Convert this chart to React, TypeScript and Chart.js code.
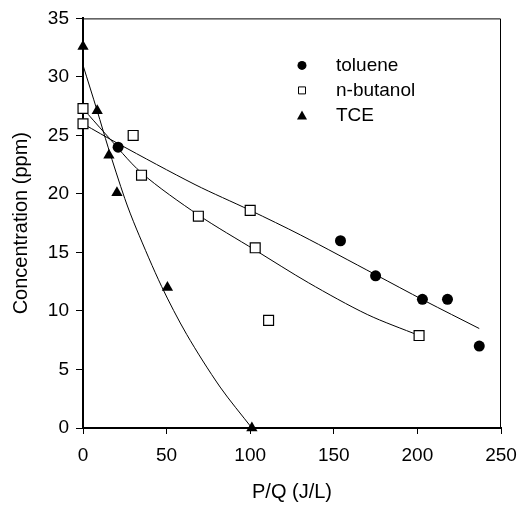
import React, { useEffect, useRef } from 'react';
import { Chart, registerables } from 'chart.js';

Chart.register(...registerables);

// ---- data ----
const seriesNames = ['toluene', 'n-butanol', 'TCE'];

const tolueneX = [21, 154, 175, 203, 218, 237];
const tolueneY = [24, 16, 13, 11, 11, 7];

const butanolX = [0, 0, 30, 35, 69, 100, 103, 111, 201];
const butanolY = [27.3, 26, 25, 21.6, 18.1, 18.6, 15.4, 9.2, 7.9];

const tceX = [0, 8.5, 15.5, 20.3, 50.5, 101];
const tceY = [32.6, 27.1, 23.3, 20.1, 12, 0];

// fitted curves
const tolueneFitX = [0, 21, 67, 100, 130, 175, 204, 237];
const tolueneFitY = [26, 24.3, 20.8, 18.6, 16.5, 13.1, 10.9, 8.5];

const butanolFitX = [0, 13, 35, 69, 103, 135, 170, 201];
const butanolFitY = [27.3, 25.2, 21.8, 18.2, 15.2, 12.4, 9.7, 7.9];

const tceFitX = [0, 8.5, 15, 25, 32, 47, 62, 82, 101];
const tceFitY = [31, 27.1, 24, 19.6, 17, 12.1, 8, 3.5, 0];

const xTicks = [0, 50, 100, 150, 200, 250];
const yTicks = [0, 5, 10, 15, 20, 25, 30, 35];

const xTitle = 'P/Q (J/L)';
const yTitle = 'Concentration (ppm)';

const zip = (xs: number[], ys: number[]) => xs.map((x, i) => ({ x, y: ys[i] }));

const FONT = '"Liberation Sans", Arial, Helvetica, sans-serif';

function drawMarker(ctx: CanvasRenderingContext2D, kind: string, x: number, y: number) {
  ctx.save();
  ctx.fillStyle = '#000';
  ctx.strokeStyle = '#000';
  ctx.lineWidth = 1;
  ctx.beginPath();
  if (kind === 'circle') {
    ctx.arc(x, y, 4.5, 0, Math.PI * 2);
    ctx.fill();
  } else if (kind === 'rect') {
    ctx.fillStyle = '#fff';
    ctx.rect(x - 3.5, y - 3.5, 7, 7);
    ctx.fill();
    ctx.stroke();
  } else {
    ctx.moveTo(x, y - 5);
    ctx.lineTo(x + 5, y + 4);
    ctx.lineTo(x - 5, y + 4);
    ctx.closePath();
    ctx.fill();
  }
  ctx.restore();
}

const markerKinds = ['circle', 'rect', 'triangle'];

const insideLegend = {
  id: 'insideLegend',
  afterDatasetsDraw(chart: any) {
    const { ctx, chartArea } = chart;
    const mx = chartArea.left + 219;
    const tx = chartArea.left + 253;
    const rows = [47, 72, 97];
    ctx.save();
    ctx.font = `19px ${FONT}`;
    ctx.fillStyle = '#000';
    ctx.textBaseline = 'middle';
    ctx.textAlign = 'left';
    seriesNames.forEach((name, i) => {
      const y = chartArea.top + rows[i];
      drawMarker(ctx, markerKinds[i], mx, y);
      ctx.fillText(name, tx, y);
    });
    ctx.restore();
  },
};

const frame = {
  id: 'frame',
  beforeDatasetsDraw(chart: any) {
    const { ctx, chartArea } = chart;
    ctx.save();
    ctx.strokeStyle = '#000';
    ctx.lineWidth = 1;
    ctx.beginPath();
    ctx.moveTo(chartArea.left, chartArea.top + 0.5);
    ctx.lineTo(chartArea.right - 0.5, chartArea.top + 0.5);
    ctx.lineTo(chartArea.right - 0.5, chartArea.bottom);
    ctx.stroke();
    ctx.restore();
  },
};

export default function App() {
  const ref = useRef<HTMLCanvasElement | null>(null);

  useEffect(() => {
    if (!ref.current) return;
    const fitLine = (xs: number[], ys: number[]) => ({
      type: 'line' as const,
      data: zip(xs, ys),
      borderColor: '#000',
      borderWidth: 1,
      pointRadius: 0,
      showLine: true,
      fill: false,
      tension: 0.3,
    });
    const chart = new Chart(ref.current, {
      type: 'scatter',
      data: {
        datasets: [
          {
            label: seriesNames[0],
            data: zip(tolueneX, tolueneY),
            pointStyle: 'circle',
            pointRadius: 5.5,
            backgroundColor: '#000',
            borderColor: '#000',
            borderWidth: 0,
            clip: false,
          } as any,
          {
            label: seriesNames[1],
            data: zip(butanolX, butanolY),
            pointStyle: 'rect',
            pointRadius: 7,
            backgroundColor: '#fff',
            borderColor: '#000',
            borderWidth: 1.2,
            clip: false,
          },
          {
            label: seriesNames[2],
            data: zip(tceX, tceY),
            pointStyle: 'triangle',
            pointRadius: 6.5,
            backgroundColor: '#000',
            borderColor: '#000',
            borderWidth: 0,
            clip: false,
          },
          fitLine(tolueneFitX, tolueneFitY),
          fitLine(butanolFitX, butanolFitY),
          fitLine(tceFitX, tceFitY),
        ] as any,
      },
      options: {
        animation: false,
        responsive: false,
        maintainAspectRatio: false,
        layout: { padding: { top: 16, right: 29, left: 0, bottom: 0 } },
        plugins: {
          legend: { display: false },
          tooltip: { enabled: false },
        },
        scales: {
          x: {
            type: 'linear',
            position: 'bottom',
            min: xTicks[0],
            max: xTicks[xTicks.length - 1],
            afterBuildTicks: (s: any) => {
              s.ticks = xTicks.map((v) => ({ value: v }));
            },
            afterFit: (s: any) => {
              s.height = 80;
            },
            ticks: {
              color: '#000',
              font: { family: FONT, size: 19 },
              padding: 10,
              maxRotation: 0,
            },
            grid: {
              display: true,
              drawOnChartArea: false,
              drawTicks: true,
              tickLength: 6,
              tickColor: '#000',
              tickWidth: 1,
            },
            border: { display: true, color: '#000', width: 2 },
            title: {
              display: true,
              text: xTitle,
              color: '#000',
              font: { family: FONT, size: 20 },
              padding: { top: 0, bottom: 4 },
            },
          },
          y: {
            type: 'linear',
            position: 'left',
            min: yTicks[0],
            max: yTicks[yTicks.length - 1],
            afterBuildTicks: (s: any) => {
              s.ticks = yTicks.map((v) => ({ value: v }));
            },
            afterFit: (s: any) => {
              s.width = 83;
            },
            ticks: {
              color: '#000',
              font: { family: FONT, size: 19 },
              padding: 7,
            },
            grid: {
              display: true,
              drawOnChartArea: false,
              drawTicks: true,
              tickLength: 7,
              tickColor: '#000',
              tickWidth: 1,
            },
            border: { display: true, color: '#000', width: 2 },
            title: {
              display: true,
              text: yTitle,
              color: '#000',
              font: { family: FONT, size: 20 },
              padding: { top: 9, bottom: 0 },
            },
          },
        },
      } as any,
      plugins: [frame, insideLegend],
    });
    return () => chart.destroy();
  }, []);

  return (
    <div style={{ position: 'fixed', left: 0, top: 0, width: 530, height: 508, background: '#fff' }}>
      <canvas ref={ref} width={530} height={508} style={{ display: 'block', width: 530, height: 508 }} />
    </div>
  );
}
